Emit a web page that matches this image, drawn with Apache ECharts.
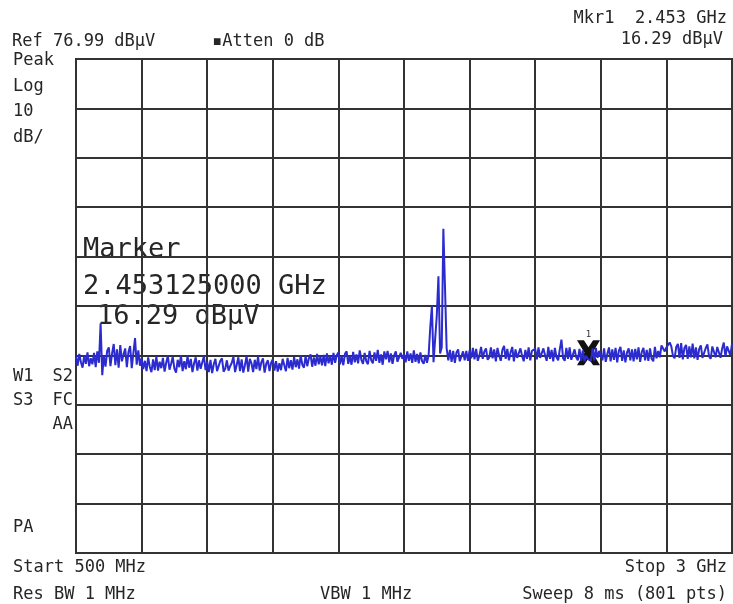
<!DOCTYPE html>
<html>
<head>
<meta charset="utf-8">
<script src="https://cdn.jsdelivr.net/npm/echarts@6/dist/echarts.min.js"></script>
<style>
html,body{margin:0;padding:0;background:#fff;}
#c{width:733px;height:604px;}
</style>
</head>
<body>
<div id="c"></div>
<script>
// Sweep settings
const startMHz = 500;
const stopMHz = 3000;
const divMHz = 250;
const refLevel = 76.99;   // dBµV, top of screen
const dbPerDiv = 10;
const stepMHz = 6.25;     // spacing of the traced points (401 points)

// Trace levels (dBµV), one list per horizontal division (40 points each)
const div0 = [16.8,14.9,17.3,15.6,14.5,17.0,15.3,17.6,14.8,16.4,
  15.2,17.5,14.6,17.8,15.5,23.5,13.0,16.9,14.7,17.9,
  18.6,14.8,17.4,19.3,15.0,18.2,14.5,19.1,15.8,17.2,
  18.4,14.6,17.7,18.9,14.4,17.5,20.5,15.1,18.0,14.9];
const div1 = [16.4,14.2,15.9,13.8,16.6,14.7,13.6,16.2,14.0,16.8,
  13.9,15.7,14.4,16.5,13.7,15.5,16.9,14.1,15.3,16.7,
  14.3,13.5,16.1,14.6,17.0,13.8,15.8,14.2,16.9,14.5,
  16.3,13.6,15.4,16.6,13.9,16.0,14.3,15.6,16.8,14.0];
const div2 = [15.7,13.6,16.1,13.4,15.2,16.3,13.8,13.5,15.9,16.4,
  13.7,14.3,16.0,13.9,14.8,15.5,16.7,13.6,15.1,16.6,
  13.8,16.2,13.5,15.0,16.9,13.7,16.3,15.4,13.6,16.1,
  14.2,16.8,13.9,15.6,16.4,13.5,15.3,16.0,13.8,15.5];
const div3 = [16.2,13.9,15.8,13.7,15.4,14.0,16.3,15.0,13.8,16.5,
  14.4,16.0,14.1,16.7,14.6,16.2,14.3,17.0,15.1,14.5,
  16.9,14.8,16.4,17.2,14.7,16.6,14.9,17.3,15.2,16.8,
  15.0,17.1,14.8,17.4,15.4,16.9,15.1,17.5,15.5,17.0];
const div4 = [17.6,15.2,16.9,15.0,17.3,17.8,15.3,16.8,15.1,17.7,
  15.6,17.2,15.4,18.0,16.1,15.3,17.5,15.8,15.2,17.9,
  16.0,15.4,17.6,15.9,18.1,15.5,17.2,15.1,17.8,16.2,
  17.9,15.6,17.4,15.3,17.0,17.8,15.7,15.4,17.5,16.3];
const div5 = [17.2,15.6,17.8,15.9,17.4,15.5,18.0,15.7,17.3,15.4,
  17.6,15.8,15.3,17.1,15.5,17.0,22.6,27.0,15.6,15.2,
  25.1,33.0,17.4,18.6,42.6,30.8,18.4,16.0,18.1,15.7,
  17.9,15.5,17.6,18.2,15.8,15.4,17.8,16.0,17.9,15.9];
const div6 = [18.0,16.4,18.5,16.2,18.3,15.9,17.0,18.7,16.3,17.8,
  18.4,16.1,16.6,18.6,16.4,18.2,15.8,18.5,17.0,15.9,
  18.1,18.9,16.3,18.3,16.0,17.6,18.7,15.8,18.2,16.5,
  16.1,18.4,16.9,15.8,18.1,16.3,18.6,16.0,17.9,18.2];
const div7 = [18.3,16.2,18.6,16.5,16.1,18.4,17.0,15.9,18.7,16.3,
  18.1,15.8,18.5,16.6,16.0,18.2,20.2,16.4,15.9,18.5,
  16.3,18.6,16.1,15.8,18.2,16.6,16.0,18.3,15.9,18.0,
  15.8,16.9,16.3,16.3,15.9,18.4,16.0,18.5,16.5,17.9];
const div8 = [18.1,16.0,18.4,15.7,17.3,18.6,15.8,18.2,16.1,18.5,
  15.6,17.9,18.7,15.9,18.0,15.6,17.6,18.4,16.0,18.2,
  15.8,18.3,16.2,18.6,15.7,17.7,18.5,16.0,18.1,15.9,
  18.4,16.3,15.8,18.7,16.4,17.9,16.6,19.0,18.6,17.8];
const div9 = [18.6,19.1,19.6,18.8,16.9,16.4,18.7,19.3,16.5,19.5,
  16.2,18.5,19.1,16.3,18.8,16.6,19.4,16.4,18.6,16.1,
  18.3,19.0,16.5,16.2,18.5,19.2,16.8,16.3,18.8,19.1,
  16.6,18.7,19.0,16.5,18.4,19.6,16.7,18.8,19.1,17.0];
const lastPoint = [19.3];

// Marker
const markerFreqMHz = 2453.125;
const markerLevel = 16.29;

// Annotation texts
const txtRef = 'Ref 76.99 dBµV';
const txtAtten = '\u25AAAtten 0 dB';
const txtMkr = 'Mkr1  2.453 GHz';
const txtMkrLvl = '16.29 dBµV';
const leftLabels = ['Peak', 'Log', '10', 'dB/'];
const txtStart = 'Start 500 MHz';
const txtStop = 'Stop 3 GHz';
const txtRbw = 'Res BW 1 MHz';
const txtVbw = 'VBW 1 MHz';
const txtSweep = 'Sweep 8 ms (801 pts)';
const bigMarker = ['Marker', '2.453125000 GHz', '16.29 dBµV'];

const levels = [].concat(div0, div1, div2, div3, div4, div5, div6, div7, div8, div9, lastPoint);
const trace = levels.map((v, i) => [startMHz + i * stepMHz, v]);

const bottomLevel = refLevel - 10 * dbPerDiv;

const chart = echarts.init(document.getElementById('c'), null, {renderer: 'canvas'});
const mono = '"DejaVu Sans Mono", "Liberation Mono", monospace';
const small = '17px ' + mono;
const big = '27px ' + mono;
const tcol = '#262626';

function t(text, x, y, align, font) {
  return {type: 'text', silent: true, style: {text: text, x: x, y: y, fill: tcol,
    font: font || small, textAlign: align || 'left', textVerticalAlign: 'middle'}};
}

const graphics = [
  t(txtRef, 12, 42),
  t(txtAtten, 212, 42),
  t(txtMkr, 727, 19, 'right'),
  t(txtMkrLvl, 723, 40, 'right'),
  t(leftLabels[0], 13, 61),
  t(leftLabels[1], 13, 87),
  t(leftLabels[2], 13, 112),
  t(leftLabels[3], 13, 138),
  t('W1', 13, 377),
  t('S2', 73, 377, 'right'),
  t('S3', 13, 401),
  t('FC', 73, 401, 'right'),
  t('AA', 73, 425, 'right'),
  t('PA', 13, 528),
  t(txtStart, 13, 568),
  t(txtRbw, 13, 595),
  t(txtVbw, 320, 595),
  t(txtStop, 727, 568, 'right'),
  t(txtSweep, 727, 595, 'right'),
  t(bigMarker[0], 83, 250, 'left', big),
  t(bigMarker[1], 83, 287, 'left', big),
  t(bigMarker[2], 97, 317, 'left', big)
];

const xPath = 'path://M0,0 L6,0 L10,6 L14,0 L20,0 L13.5,11 L20,22 L14,22 L10,16 L6,22 L0,22 L6.5,11 Z';

chart.setOption({
  animation: false,
  backgroundColor: '#ffffff',
  grid: {left: 76, top: 59, width: 656, height: 494, show: true,
    borderColor: '#2a2a2a', borderWidth: 2, backgroundColor: 'transparent'},
  xAxis: {type: 'value', min: startMHz, max: stopMHz, interval: divMHz,
    axisLabel: {show: false}, axisTick: {show: false}, axisLine: {show: false},
    splitLine: {show: true, lineStyle: {color: '#333', width: 2}}},
  yAxis: [
    {type: 'value', min: bottomLevel, max: refLevel, show: false, splitLine: {show: false}},
    {type: 'value', min: 0, max: 10, interval: 1,
      axisLabel: {show: false}, axisTick: {show: false}, axisLine: {show: false},
      splitLine: {show: true, lineStyle: {color: '#333', width: 2}}}
  ],
  series: [{
    type: 'line', yAxisIndex: 0, data: trace, showSymbol: false, symbol: 'none',
    lineStyle: {color: '#2b2bd0', width: 2}, z: 5,
    markPoint: {
      silent: true,
      data: [{coord: [markerFreqMHz, markerLevel], symbol: xPath, symbolSize: [23, 25],
        symbolOffset: [0, -6], itemStyle: {color: '#111'},
        label: {show: true, position: 'top', distance: 1, formatter: '1',
          color: '#333', fontSize: 9, fontFamily: mono}}]
    }
  }],
  graphic: graphics
});
</script>
</body>
</html>
